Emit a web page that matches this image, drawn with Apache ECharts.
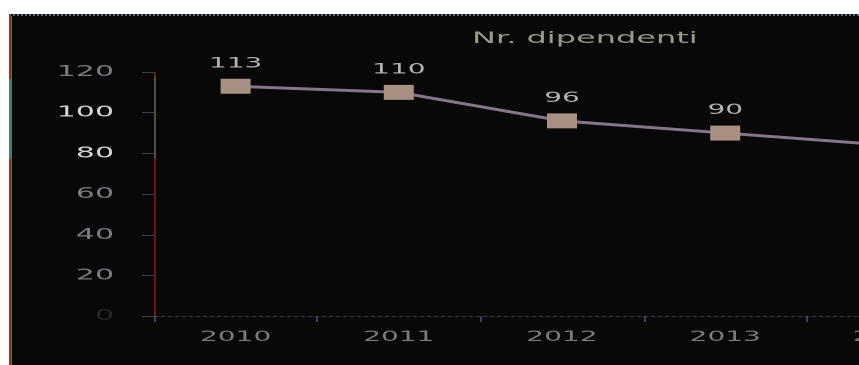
<!DOCTYPE html>
<html>
<head>
<meta charset="utf-8">
<title>Nr. dipendenti</title>
<script src="https://cdn.jsdelivr.net/npm/echarts@6/dist/echarts.min.js"></script>
<style>
  html, body { margin: 0; padding: 0; width: 859px; height: 365px; overflow: hidden; background: #ffffff; }
  #frame {
    position: absolute; left: 9px; top: 14px; width: 860px; height: 360px;
    background: #080808;
    border-left: 2px solid #b02424;
    border-top: 2px dotted #5c6680;
    box-shadow: inset 1px 0 0 #2a8a34;
  }
  #frame-band { position: absolute; left: 9px; top: 79px; width: 3px; height: 80px; background: #4a7c70; }
  /* the plot is laid out at half width and stretched horizontally */
  #chart {
    position: absolute; left: 0; top: 0; width: 500px; height: 365px;
    transform: scaleX(2); transform-origin: 0 0;
  }
</style>
</head>
<body>
<div id="frame"></div>
<div id="frame-band"></div>
<div id="chart"></div>
<script>
// Number of employees per year
const years = ['2010', '2011', '2012', '2013', '2014'];
const employees = [113, 110, 96, 90, 84];
const yTickValues = [0, 20, 40, 60, 80, 100, 120];
const brightTicks = [80, 100];

const chart = echarts.init(document.getElementById('chart'), null, { renderer: 'canvas', devicePixelRatio: 2 });

const FONT = 'DejaVu Sans';
const axisRed = '#ac2424';
const axisGray = '#8a7a70';

chart.setOption({
  animation: false,
  backgroundColor: 'transparent',
  title: {
    text: 'Nr. dipendenti',
    left: 236,
    top: 31,
    padding: 0,
    textStyle: { fontFamily: FONT, fontSize: 16, fontWeight: 'normal', color: '#9a9a86' }
  },
  grid: { left: 77, top: 72, bottom: 48.7, width: 408, containLabel: false },
  xAxis: {
    type: 'category',
    data: years,
    boundaryGap: true,
    axisLine: { show: true, lineStyle: { color: '#6a6a78', width: 0.6, type: [2, 1.5] } },
    axisTick: { show: true, length: 6, lineStyle: { color: '#5a6a90', width: 0.6 } },
    axisLabel: { fontFamily: FONT, fontSize: 14, color: '#7c7c80', margin: 14 },
    splitLine: { show: false }
  },
  yAxis: {
    type: 'value',
    min: yTickValues[0],
    max: yTickValues[yTickValues.length - 1],
    interval: yTickValues[1] - yTickValues[0],
    axisLine: {
      show: true,
      lineStyle: {
        width: 0.6,
        color: new echarts.graphic.LinearGradient(0, 0, 0, 1, [
          { offset: 0, color: axisRed },
          { offset: 0.029, color: axisRed },
          { offset: 0.029, color: axisGray },
          { offset: 0.356, color: axisGray },
          { offset: 0.356, color: axisRed },
          { offset: 1, color: axisRed }
        ])
      }
    },
    axisTick: { show: true, length: 6, lineStyle: { color: '#5c6474', width: 0.6 } },
    axisLabel: {
      fontFamily: FONT,
      fontSize: 15,
      margin: 20,
      color: function (value) {
        const v = Number(value);
        if (v === 0) return '#262626';
        return brightTicks.indexOf(v) >= 0 ? '#d6d6d2' : '#7c7c84';
      }
    },
    splitLine: { show: false }
  },
  series: [{
    type: 'line',
    data: employees,
    symbol: 'rect',
    symbolSize: [15, 15],
    showAllSymbol: true,
    lineStyle: { color: '#86748a', width: 3 },
    itemStyle: { color: '#a89082' },
    label: {
      show: true,
      position: 'top',
      distance: 8,
      fontFamily: FONT,
      fontSize: 14,
      color: '#b4b4b4'
    },
    clip: false
  }]
});
</script>
</body>
</html>
